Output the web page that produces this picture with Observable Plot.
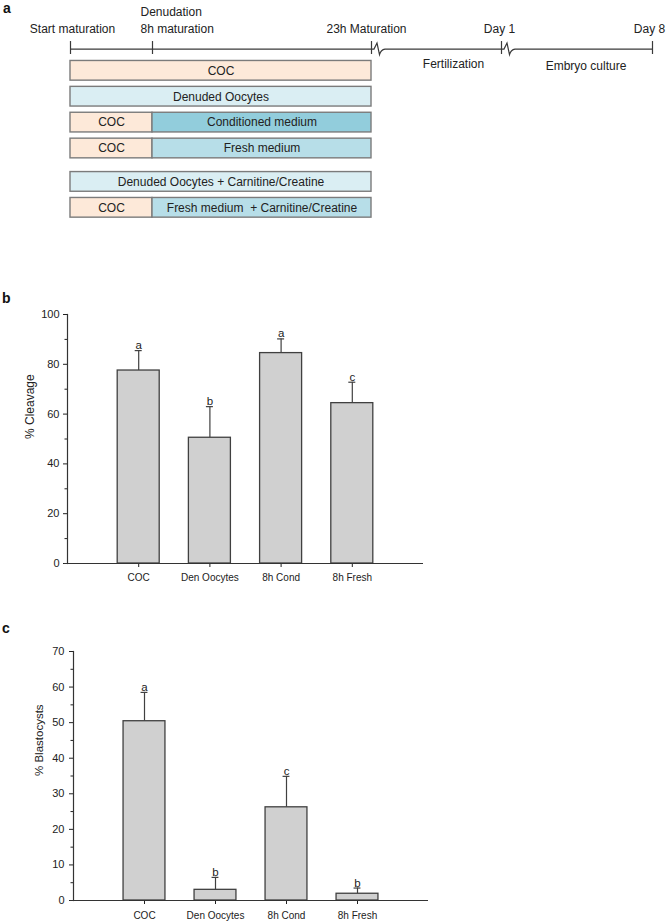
<!DOCTYPE html>
<html><head><meta charset="utf-8">
<script src="https://cdn.jsdelivr.net/npm/d3@7"></script>
<script src="https://cdn.jsdelivr.net/npm/@observablehq/plot@0.6"></script>
<style>
html,body{margin:0;padding:0;background:#fff;}
#fig{position:relative;width:666px;height:922px;overflow:hidden;font-family:"Liberation Sans",Arial,sans-serif;color:#222;}
.panel{position:absolute;left:0;}
.tag{position:absolute;left:2px;font-weight:bold;font-size:14px;line-height:14px;color:#111;}
</style></head><body>
<div id="fig">
  <div class="panel" id="pa" style="top:0px"></div>
  <div class="panel" id="pb" style="top:240px"></div>
  <div class="panel" id="pc" style="top:600px"></div>
  <div class="tag" style="top:1px;left:3px">a</div>
  <div class="tag" style="top:291px">b</div>
  <div class="tag" style="top:621px">c</div>
</div>
<script>
// ---------- Panel a: protocol timeline ----------
const timeHours  = [0, 8, 23, 47, 215];
const timeLabels = ["Start maturation", "8h maturation", "23h Maturation", "Day 1", "Day 8"];
const extraLabel = "Denudation";           // shown above the 8h mark
const phaseLabels = ["Fertilization", "Embryo culture"];
const phaseStart  = [23, 47];
const phaseEnd    = [47, 215];
const breakHours  = [23, 47];

const rowGroup = [0, 0, 0, 0, 1, 1];
const segRow   = [0, 1, 2, 2, 3, 3, 4, 5, 5];
const segText  = ["COC", "Denuded Oocytes", "COC", "Conditioned medium", "COC", "Fresh medium",
                  "Denuded Oocytes + Carnitine/Creatine", "COC", "Fresh medium  + Carnitine/Creatine"];
const segKind  = ["COC", "Denuded", "COC", "Conditioned", "COC", "Fresh", "Denuded", "COC", "Fresh"];
const segStart = [0, 0, 0, 8, 0, 8, 0, 0, 8];
const segEnd   = [23, 23, 8, 23, 8, 23, 23, 8, 23];

// ---------- Panels b, c ----------
const groups = ["COC", "Den Oocytes", "8h Cond", "8h Fresh"];
const cleavageMean    = [77.5, 50.5, 84.5, 64.4];
const cleavageErr     = [8.0, 12.5, 5.7, 8.4];
const cleavageLetters = ["a", "b", "a", "c"];
const cleavageTicks   = [0, 20, 40, 60, 80, 100];
const cleavageMinor   = [10, 30, 50, 70, 90];

const blastMean    = [50.4, 3.0, 26.2, 1.9];
const blastErr     = [8.1, 3.5, 8.7, 1.6];
const blastLetters = ["a", "b", "c", "b"];
const blastTicks   = [0, 10, 20, 30, 40, 50, 60, 70];
const blastMinor   = [5, 15, 25, 35, 45, 55, 65];

// ---------- styles / layout ----------
const FONT = '"Liberation Sans", Arial, sans-serif';
const boxColors = {domain: ["COC", "Denuded", "Conditioned", "Fresh"],
                   range: ["#FDE9D9", "#DAEEF3", "#92CDDC", "#B7DEE8"]};
const xA = {type: "linear", domain: timeHours, range: [70, 152, 371, 501, 652]};
const xs = d3.scaleLinear().domain(xA.domain).range(xA.range);
const pxShift = (h, px) => xs.invert(xs(h) + px);
const midHour = (a, b) => xs.invert((xs(a) + xs(b)) / 2);
const rowPos = rowGroup.map((g, i) => i + g * 0.29);
const lineRow = -0.82;
const nudge = {"Start maturation": 2, "23h Maturation": -5, "Day 1": -2, "Day 8": -3,
               "Fertilization": 17, "Embryo culture": 9};

const segs = segRow.map((r, i) => ({row: r, text: segText[i], kind: segKind[i], start: segStart[i], end: segEnd[i]}));
const tLabs = timeHours.map((t, i) => ({t, label: timeLabels[i]}));
const midLabs = tLabs.filter(d => d.label !== "8h maturation");
const startLabs = [{t: timeHours[1], label: timeLabels[1]}, {t: timeHours[1], label: extraLabel}];
const phases = phaseLabels.map((p, i) => ({label: p, a: phaseStart[i], b: phaseEnd[i]}));

function timelineLine(index, scales) {
  const X = scales.x, y = scales.y(lineRow);
  let d = `M${X(timeHours[0])},${y}`;
  for (const b of breakHours) {
    const xb = X(b);
    d += `L${xb + 3},${y}L${xb + 6},${y - 6}L${xb + 8.5},${y + 5.5}Q${xb + 10},${y + 0.5} ${xb + 14},${y}`;
  }
  d += `L${X(timeHours[timeHours.length - 1])},${y}`;
  const p = document.createElementNS("http://www.w3.org/2000/svg", "path");
  p.setAttribute("d", d);
  p.setAttribute("fill", "none");
  p.setAttribute("stroke", "#3a3a3a");
  p.setAttribute("stroke-width", "1.2");
  return p;
}

const txt = {fontSize: 12, fill: "#222", lineAnchor: "bottom"};
const panelA = Plot.plot({
  width: 666, height: 240, margin: 0,
  style: {fontFamily: FONT, fontSize: "12px", color: "#222", background: "transparent", overflow: "visible"},
  x: {...xA, axis: null},
  y: {domain: [0, 1], range: [70.3, 96.2], axis: null},
  color: boxColors,
  marks: [
    Plot.rect(segs, {x1: "start", x2: "end", y1: d => rowPos[d.row] - 0.38, y2: d => rowPos[d.row] + 0.38,
                     fill: "kind", stroke: "#7b7b7b", strokeWidth: 1.4}),
    Plot.text(segs, {x: d => midHour(d.start, d.end), y: d => rowPos[d.row], text: "text", fontSize: 12, fill: "#222"}),
    timelineLine,
    Plot.ruleX(timeHours, {x: d => d, y1: lineRow - 0.31, y2: lineRow + 0.19, stroke: "#3a3a3a", strokeWidth: 1.2}),
    Plot.text(midLabs, {...txt, x: d => pxShift(d.t, nudge[d.label] || 0), y: lineRow, text: "label", dy: -17}),
    Plot.text(startLabs.slice(0, 1), {...txt, x: d => pxShift(d.t, -12), y: lineRow, text: "label", textAnchor: "start", dy: -17}),
    Plot.text(startLabs.slice(1), {...txt, x: d => pxShift(d.t, -12), y: lineRow, text: "label", textAnchor: "start", dy: -34}),
    Plot.text(phases.slice(0, 1), {...txt, x: d => pxShift(midHour(d.a, d.b), nudge[d.label]), y: lineRow, text: "label", dy: 18}),
    Plot.text(phases.slice(1), {...txt, x: d => pxShift(midHour(d.a, d.b), nudge[d.label]), y: lineRow, text: "label", dy: 20})
  ]
});
document.getElementById("pa").append(panelA);

function barPanel({mean, err, letters, ticks, minor, yMax, label, height, mt, mb, ml, mr, labelDx, labelSize, tickPad, yPad}) {
  const data = groups.map((g, i) => ({group: g, mean: mean[i], top: mean[i] + err[i], letter: letters[i]}));
  return Plot.plot({
    width: 666, height, marginTop: mt, marginBottom: mb, marginLeft: ml, marginRight: mr,
    style: {fontFamily: FONT, fontSize: "11px", color: "#222", background: "transparent", overflow: "visible"},
    x: {domain: groups, paddingInner: 0.41, paddingOuter: 0.705, round: false},
    y: {domain: [0, yMax]},
    marks: [
      Plot.ruleX(data, {x: "group", y1: "mean", y2: "top", stroke: "#404040", strokeWidth: 1.2}),
      Plot.tickY(data, {x: "group", y: "top", insetLeft: 17.5, insetRight: 17.5, stroke: "#404040", strokeWidth: 1.2}),
      Plot.barY(data, {x: "group", y: "mean", fill: "#d0d0d0", stroke: "#404040", strokeWidth: 1.3}),
      Plot.text(data, {x: "group", y: "top", text: "letter", lineAnchor: "bottom", dy: -1.5, fontSize: 11.5, fill: "#222"}),
      Plot.axisY(ticks, {tickSize: 4, tickPadding: yPad, fontSize: 11, label: null}),
      Plot.axisY(minor, {tickSize: 2.5, tickFormat: () => "", label: null}),
      Plot.axisX({tickSize: 4, tickPadding: tickPad, fontSize: 10, label: null}),
      Plot.ruleY([0], {stroke: "#333", strokeWidth: 1.2, insetLeft: -3}),
      Plot.frame({anchor: "left", stroke: "#333", strokeWidth: 1.2}),
      Plot.text([label], {frameAnchor: "left", dx: labelDx, rotate: -90, fontSize: labelSize, fill: "#222"})
    ]
  });
}

document.getElementById("pb").append(barPanel({
  mean: cleavageMean, err: cleavageErr, letters: cleavageLetters, ticks: cleavageTicks, minor: cleavageMinor,
  yMax: 100, label: "% Cleavage", height: 360, mt: 74, mb: 37, ml: 67, mr: 243,
  labelDx: -37, labelSize: 12, tickPad: 6.5, yPad: 4
}));
document.getElementById("pc").append(barPanel({
  mean: blastMean, err: blastErr, letters: blastLetters, ticks: blastTicks, minor: blastMinor,
  yMax: 70, label: "% Blastocysts", height: 322, mt: 51, mb: 22, ml: 73, mr: 238,
  labelDx: -34, labelSize: 11.5, tickPad: 7.5, yPad: 5
}));
</script>
</body></html>
